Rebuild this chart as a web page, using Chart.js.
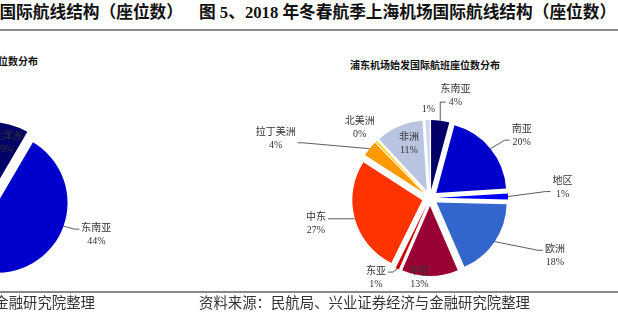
<!DOCTYPE html>
<html lang="zh-CN">
<head>
<meta charset="utf-8">
<script src="https://cdn.jsdelivr.net/npm/chart.js@4.4.0/dist/chart.umd.min.js"></script>
<style>
  html, body { margin: 0; padding: 0; background: #fff; }
  body { width: 618px; height: 324px; position: relative; overflow: hidden;
         font-family: "Liberation Serif", "Noto Sans CJK SC", serif; color: #222; }
  .head { position: absolute; top: 4px; font-size: 16.7px; line-height: 18px; font-weight: bold;
          white-space: nowrap; color: #111; }
  .rule { position: absolute; left: 0; width: 618px; height: 2px; background: #8a8a8a; }
  .src { position: absolute; top: 295px; font-size: 14.4px; line-height: 16px; white-space: nowrap; color: #333; }
  .ctitle { position: absolute; font-family: "Noto Sans CJK SC", sans-serif; font-weight: bold;
            font-size: 10px; line-height: 14px; white-space: nowrap; color: #111; }
  .box { position: absolute; width: 360px; height: 240px; }
</style>
</head>
<body>
<div class="head" style="right:435px;">国际航线结构（座位数）</div>
<div class="head" style="left:199px;">图 5、2018 年冬春航季上海机场国际航线结构（座位数）</div>
<div class="rule" style="top:29px;"></div>

<div class="ctitle" style="right:580px; top:54px;">浦东机场始发国际航班座位数分布</div>
<div class="ctitle" style="left:325px; width:200px; text-align:center; top:58px;">浦东机场始发国际航班座位数分布</div>

<div class="box" style="left:-190px; top:80px;"><canvas id="leftPie"></canvas></div>
<div class="box" style="left:250px; top:78px;"><canvas id="rightPie"></canvas></div>

<div class="rule" style="top:291px;"></div>
<div class="src" style="right:523px;">资料来源：民航局、兴业证券经济与金融研究院整理</div>
<div class="src" style="left:199px;">资料来源：民航局、兴业证券经济与金融研究院整理</div>

<script>
// 右图：浦东机场始发国际航班座位数分布（%）
const pdCategories = ['东南亚', '南亚', '地区', '欧洲', '中亚', '东亚', '中东', '拉丁美洲', '北美洲', '非洲', ''];
const pdShares = [4.2, 19.8, 1.4, 18.1, 13.0, 0.8, 26.8, 3.6, 0.4, 10.9, 1.0];

// 左图（大部分被裁切，只看得到两块）
const leftCategories = ['大洋洲', '东南亚', '其他'];
const leftShares = [9, 44, 47];

const pdColors = ['#000066', '#0000CC', '#0000FF', '#3366CC', '#990033', '#CC0000',
                  '#FF3300', '#FF9900', '#FFCC00', '#B9C4E0', '#D0D6EC'];
const leftColors = ['#000066', '#0000CC', '#6699FF'];

// label placement: angle (deg, clockwise from top), distance (x radius), leader line
const pdPlaces = [
    { a: 14, d: 1.5, line: true },
    { a: 56, d: 1.58, line: true },
    { a: 85.5, d: 1.9, line: true },
    { a: 115, d: 1.97, line: true },
    { a: 187.5, d: 1.15, line: false },
    { a: 214, d: 1.38, line: true },
    { a: 257.3, d: 1.67, line: true },
    { a: 291, d: 2.36, line: true },
    { a: 315, d: 1.42, line: false },
    { a: 338.7, d: 0.83, line: false },
    { a: 359, d: 1.27, line: false }
];
const leftPlaces = [
    { a: 16.6, d: 0.85, line: false },
    { a: 108.3, d: 1.6, line: true },
    null
];

const EXPLODE = 8;
const RADIUS = 70;
const LABEL_FONT = '10px "Liberation Serif", "Noto Sans CJK SC"';

// Excel style explode: every slice moves out the same distance along its bisector
const baseArcDraw = Chart.ArcElement.prototype.draw;
Chart.ArcElement.prototype.draw = function(ctx) {
    const mid = (this.startAngle + this.endAngle) / 2;
    ctx.save();
    ctx.translate(Math.cos(mid) * EXPLODE, Math.sin(mid) * EXPLODE);
    baseArcDraw.call(this, ctx);
    ctx.restore();
};

// slice labels with leader lines
const sliceLabels = {
    id: 'sliceLabels',
    afterDatasetsDraw(chart, args, opts) {
        const ctx = chart.ctx;
        const meta = chart.getDatasetMeta(0);
        const values = chart.data.datasets[0].data;
        const names = chart.data.labels;
        const total = values.reduce((s, v) => s + v, 0);
        ctx.save();
        ctx.font = LABEL_FONT;
        ctx.textAlign = 'center';
        ctx.textBaseline = 'middle';
        meta.data.forEach((arc, i) => {
            const place = opts.places[i];
            if (!place) return;
            const p = arc.getProps(['x', 'y', 'outerRadius', 'startAngle', 'endAngle'], true);
            const th = (place.a - 90) * Math.PI / 180;
            const lx = p.x + Math.cos(th) * p.outerRadius * place.d;
            const ly = p.y + Math.sin(th) * p.outerRadius * place.d;
            const name = names[i];
            const pct = Math.round(values[i] / total * 100) + '%';
            const nameW = name ? ctx.measureText(name).width : 0;
            const pctW = ctx.measureText(pct).width;
            const halfW = Math.max(nameW, pctW) / 2;

            if (place.line) {
                const mid = (p.startAngle + p.endAngle) / 2;
                const sx = p.x + Math.cos(mid) * (p.outerRadius + EXPLODE);
                const sy = p.y + Math.sin(mid) * (p.outerRadius + EXPLODE);
                ctx.strokeStyle = '#333';
                ctx.lineWidth = 0.8;
                ctx.beginPath();
                ctx.moveTo(sx, sy);
                if (ly + 6 < sy && Math.abs(lx - sx) < halfW + 4) {
                    // label sits above the slice
                    const ey = ly + 6;
                    ctx.lineTo(sx, ey);
                    ctx.lineTo(lx - pctW / 2 - 3, ey);
                } else {
                    const dir = lx > sx ? -1 : 1;
                    const ex = lx + dir * (halfW + 2);
                    const ey = Math.min(Math.max(sy, ly - 6), ly + 4);
                    ctx.lineTo(ex + dir * 5, ey);
                    ctx.lineTo(ex, ey);
                }
                ctx.stroke();
            }

            ctx.fillStyle = '#333';
            if (name) {
                ctx.fillText(name, lx, ly - 6.5);
                ctx.fillText(pct, lx, ly + 6.5);
            } else {
                ctx.fillText(pct, lx, ly);
            }
        });
        ctx.restore();
    }
};

function makePie(canvasId, categories, shares, colors, places, rotation) {
    return new Chart(document.getElementById(canvasId), {
        type: 'pie',
        data: {
            labels: categories,
            datasets: [{
                data: shares,
                backgroundColor: colors,
                borderWidth: 0
            }]
        },
        options: {
            responsive: true,
            maintainAspectRatio: false,
            animation: false,
            radius: RADIUS,
            rotation: rotation,
            layout: { padding: 0 },
            plugins: {
                legend: { display: false },
                tooltip: { enabled: false },
                sliceLabels: { places: places }
            }
        },
        plugins: [sliceLabels]
    });
}

makePie('leftPie', leftCategories, leftShares, leftColors, leftPlaces, -2);
makePie('rightPie', pdCategories, pdShares, pdColors, pdPlaces, 0);
</script>
</body>
</html>
